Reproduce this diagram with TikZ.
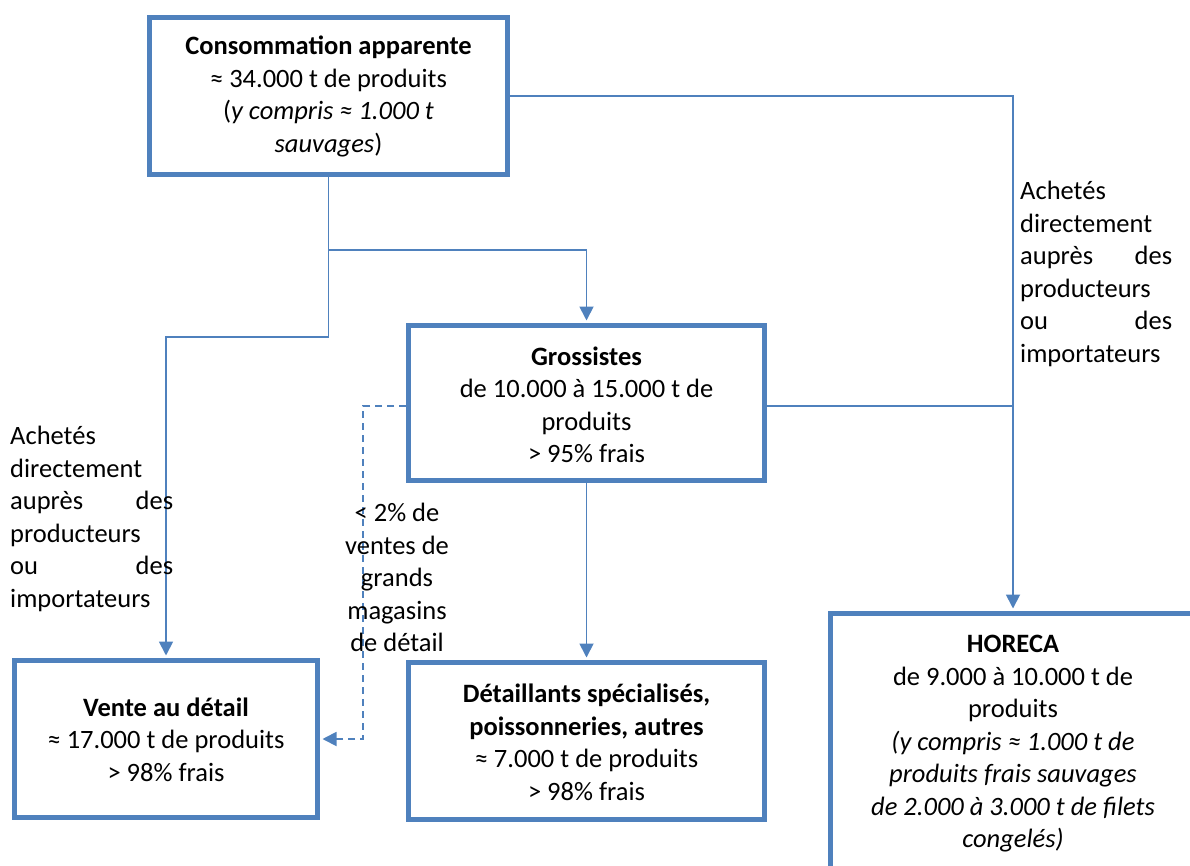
\documentclass[tikz,border=0pt]{standalone}
\usepackage{fontspec}
\setmainfont{Carlito}
\usetikzlibrary{arrows.meta}
\definecolor{ob}{HTML}{4F81BD}
\newcommand{\toprule}[1]{\rule{0pt}{#1pt}}
\newcommand{\botrule}[1]{\rule[-#1pt]{0pt}{0pt}}
\begin{document}
\begin{tikzpicture}[x=1pt,y=-1pt,
  txt/.style={font=\fontsize{26.5}{32.5}\selectfont},
  box/.style={txt, draw=ob, line width=5pt, fill=white, align=center, inner sep=0pt},
  conn/.style={draw=ob, line width=1.8pt},
  arr/.style={conn, -{Triangle[length=14pt,width=14pt]}, shorten >=2.5pt},
  lbl/.style={txt, inner sep=0pt}]
\useasboundingbox (0,0) rectangle (1190,866);

\node[box, minimum width=358pt, minimum height=157pt] (cons) at (328.5,96)
  {\toprule{32}\textbf{Consommation apparente}\\ ≈ 34.000 t de produits\\ (\textit{y compris ≈ 1.000 t}\\ \textit{sauvages})\botrule{16.5}};
\node[box, minimum width=356pt, minimum height=155pt] (gros) at (586.5,403)
  {\toprule{32}\textbf{Grossistes}\\ de 10.000 à 15.000 t de\\ produits\\ > 95\% frais\botrule{10.5}};
\node[box, minimum width=303pt, minimum height=157pt] (vente) at (166,739)
  {\toprule{32}\textbf{Vente au détail}\\ ≈ 17.000 t de produits\\ > 98\% frais\botrule{13}};
\node[box, minimum width=356pt, minimum height=157pt] (det) at (586.5,741)
  {\toprule{32}\textbf{Détaillants spécialisés,}\\ \textbf{poissonneries, autres}\\ ≈ 7.000 t de produits\\ > 98\% frais\botrule{11.1}};
\node[box, minimum width=365pt, minimum height=261pt] (hor) at (1013,744)
  {\toprule{32}\textbf{HORECA}\\ de 9.000 à 10.000 t de\\ produits\\ \textit{(y compris ≈ 1.000 t de}\\ \textit{produits frais sauvages}\\ \textit{de 2.000 à 3.000 t de filets}\\ \textit{congelés)}\botrule{19.6}};

\coordinate (ja) at (328.5,250);
\coordinate (jb) at (328.5,337);
\coordinate (ge) at ([yshift=-3pt]gros.east);
\coordinate (gw) at ([yshift=-3pt]gros.west);
\coordinate (jd) at (363,406);

\draw[arr] (cons.south) -- (ja) -| (gros.north);
\draw[arr] (ja) -- (jb) -| (vente.north);
\draw[arr] (cons.east) -| (hor.north);
\draw[conn] (ge) -- (ge -| hor.north);
\draw[arr] (gros.south) -- (det.north);
\draw[arr, dash pattern=on 7pt off 5pt] (gw) -- (jd) |- (vente.east);

\node[lbl, anchor=north west, text width=163pt, align=left] (l1) at (10,426)
  {Achetés\\ directement\\ auprès\hfill des\\ producteurs\\ ou\hfill des\\ importateurs};
\node[lbl, anchor=north west, text width=152pt, align=left] (l2) at (1020,181)
  {Achetés\\ directement\\ auprès\hfill des\\ producteurs\\ ou\hfill des\\ importateurs};
\node[lbl, anchor=north, align=center] (l3) at (397,503)
  {< 2\% de\\ ventes de\\ grands\\ magasins\\ de détail};
\end{tikzpicture}
\end{document}
